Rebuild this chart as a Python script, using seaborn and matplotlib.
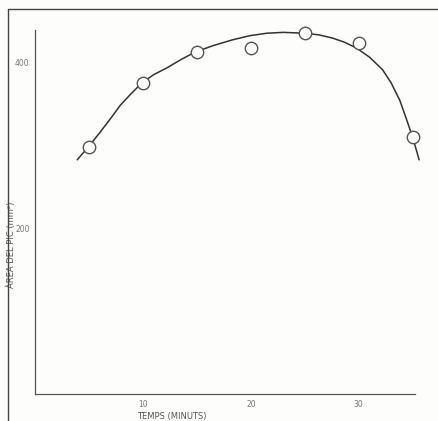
import matplotlib
matplotlib.use('Agg')
import matplotlib.pyplot as plt
import seaborn as sns
import pandas as pd
from matplotlib.lines import Line2D

# measured points
temps = [5, 10, 15, 20, 25, 30, 35]
area = [299, 376, 413, 418, 436, 424, 310]

# fitted curve
curve_x = [3.9, 4.9, 6.0, 7.0, 7.9, 8.9, 9.9, 11.0, 12.2, 13.5, 14.8, 16.5, 18.3, 19.9,
           21.5, 23.0, 25.0, 26.3, 27.6, 28.7, 29.8, 31.0, 32.2, 33.0, 33.8, 34.4, 35.0, 35.6]
curve_y = [283, 298, 316, 333, 349, 363, 376, 386, 394, 404, 413, 421, 428, 433,
           436, 437, 436, 434, 430, 425, 418, 407, 392, 376, 355, 333, 310, 283]

x_ticks = [10, 20, 30]
y_ticks = [200, 400]

points = pd.DataFrame({"temps": temps, "area": area})
curve = pd.DataFrame({"temps": curve_x, "area": curve_y})

sns.set_style("white")
plt.rcParams['font.family'] = ['DejaVu Sans']

fig = plt.figure(figsize=(4.39, 4.21), dpi=100, facecolor="#fdfdfb")
ax = fig.add_axes([0.08, 0.064, 0.865, 0.865])
ax.set_facecolor("#fdfdfb")

sns.lineplot(data=curve, x="temps", y="area", ax=ax, color="#333333", linewidth=1.1,
             sort=False, clip_on=False)
sns.scatterplot(data=points, x="temps", y="area", ax=ax, s=80, facecolor="#fdfdfb",
                edgecolor="#555555", linewidth=1.0, zorder=3, clip_on=False)

ax.set_xlim(0, 35.2)
ax.set_ylim(0, 440)
ax.set_xticks(x_ticks)
ax.set_yticks(y_ticks)
ax.tick_params(axis="both", labelsize=5.5, colors="#777777", length=2, width=0.6, pad=2)

for side in ["top", "right"]:
    ax.spines[side].set_visible(False)
for side in ["left", "bottom"]:
    ax.spines[side].set_color("#555555")
    ax.spines[side].set_linewidth(0.9)

ax.set_xlabel("TEMPS (MINUTS)", fontsize=6, color="#555555")
ax.set_ylabel("ÀREA DEL PIC (mm²)", fontsize=6, color="#555555")
ax.xaxis.set_label_coords(0.36, -0.05)
ax.yaxis.set_label_coords(-0.05, 0.41)

# scanned page frame
fig.add_artist(Line2D([8 / 439, 1], [1 - 9 / 421, 1 - 9 / 421], color="#444444", linewidth=1.0))
fig.add_artist(Line2D([8 / 439, 8 / 439], [0, 1 - 9 / 421], color="#444444", linewidth=1.0))

fig.savefig("out.png", dpi=100, facecolor=fig.get_facecolor())
plt.close(fig)
